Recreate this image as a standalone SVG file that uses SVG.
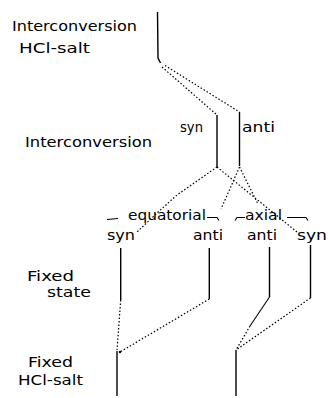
<svg xmlns="http://www.w3.org/2000/svg" width="328" height="398" viewBox="0 0 328 398">
<style>
text{font-family:"DejaVu Sans","Liberation Sans",sans-serif;font-size:14px;fill:#000}
.s{fill:none;stroke:#000;stroke-width:1.4}
.d{fill:none;stroke:#000;stroke-width:1.2;stroke-dasharray:1.5 2}
.b{fill:none;stroke:#000;stroke-width:1.1}
</style>
<rect width="328" height="398" fill="#fff"/>
<g id="labels">
<text x="12" y="31" textLength="125" lengthAdjust="spacingAndGlyphs">Interconversion</text>
<text x="19" y="53" textLength="71" lengthAdjust="spacingAndGlyphs">HCl-salt</text>
<text x="25" y="147" textLength="127" lengthAdjust="spacingAndGlyphs">Interconversion</text>
<text x="27" y="281" textLength="47" lengthAdjust="spacingAndGlyphs">Fixed</text>
<text x="47" y="297" textLength="44" lengthAdjust="spacingAndGlyphs">state</text>
<text x="28" y="367" textLength="45" lengthAdjust="spacingAndGlyphs">Fixed</text>
<text x="18" y="385" textLength="65" lengthAdjust="spacingAndGlyphs">HCl-salt</text>
</g>
<g id="salt-interconversion">
<path class="s" d="M157.5,12 L158,58 L160.5,63"/>
</g>
<g id="syn-interconversion">
<text x="180" y="132" textLength="23" lengthAdjust="spacingAndGlyphs">syn</text>
<path class="s" d="M217,115 V167"/>
</g>
<g id="anti-interconversion">
<text x="242" y="132" textLength="33" lengthAdjust="spacingAndGlyphs">anti</text>
<path class="s" d="M239.5,112 V166"/>
</g>
<g id="equatorial">
<path class="b" d="M107,219.5 L118,218.5"/>
<text x="128" y="220" textLength="78" lengthAdjust="spacingAndGlyphs">equatorial</text>
<path class="b" d="M207,217.5 H217 L219,220.5"/>
</g>
<g id="axial">
<path class="b" d="M235,220.5 L237,217.5 H245"/>
<text x="245" y="220" textLength="37" lengthAdjust="spacingAndGlyphs">axial</text>
<path class="b" d="M287,217.5 H306 L308,220.5"/>
</g>
<g id="eq-syn">
<text x="107" y="240" textLength="28" lengthAdjust="spacingAndGlyphs">syn</text>
<path class="s" d="M120.7,248 V300"/>
</g>
<g id="eq-anti">
<text x="193" y="240" textLength="30" lengthAdjust="spacingAndGlyphs">anti</text>
<path class="s" d="M209.3,248 V299"/>
</g>
<g id="ax-anti">
<text x="247" y="240" textLength="30" lengthAdjust="spacingAndGlyphs">anti</text>
<path class="s" d="M269.5,247 V297"/>
</g>
<g id="ax-syn">
<text x="297" y="240" textLength="30" lengthAdjust="spacingAndGlyphs">syn</text>
<path class="s" d="M310.5,245 V298"/>
</g>
<g id="fixed-salt-eq">
<path class="s" d="M117,351 V396"/>
</g>
<g id="fixed-salt-ax">
<path class="s" d="M236,350 V396"/>
</g>
<g id="connectors">
<path class="d" d="M162,67 L217,115"/>
<path class="d" d="M165,65.5 L239.5,112"/>
<path class="d" d="M217,167 L177,195 L157,213 L136,233"/>
<path class="d" d="M217,167 L297,232"/>
<path class="d" d="M239.5,167 L221,209"/>
<path class="d" d="M239.5,167 L258,204"/>
<path class="d" d="M120.7,300 L117,350"/>
<path class="d" d="M209.3,299 L120,352"/>
<path class="d" d="M310.5,298 L236,350"/>
<path class="s" style="stroke-width:1.1" d="M269.5,297 L250,326"/>
<path class="d" d="M250,326 L236,350"/>
<circle cx="120" cy="352" r="1.2"/>
</g>
</svg>
